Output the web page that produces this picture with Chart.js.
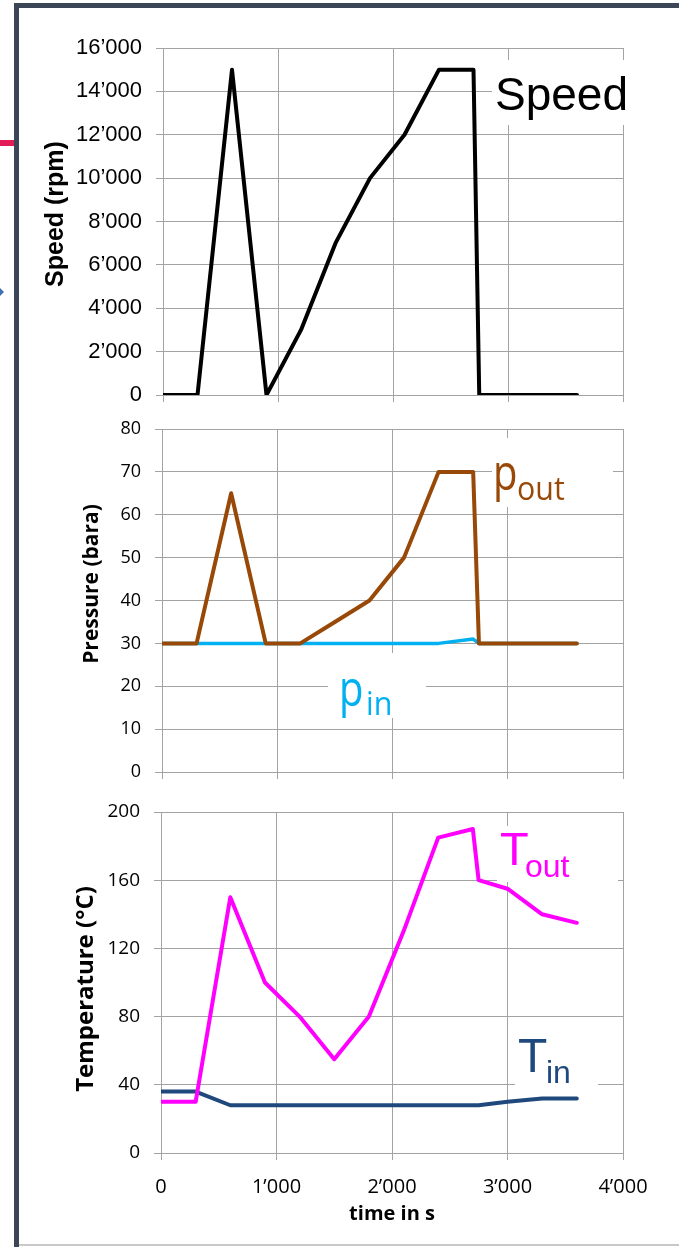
<!DOCTYPE html>
<html>
<head>
<meta charset="utf-8">
<script src="https://cdn.jsdelivr.net/npm/chart.js@4.4.1/dist/chart.umd.min.js"></script>
<style>
  body { margin: 0; background: #fff; width: 679px; height: 1247px; position: relative; overflow: hidden; }
  canvas { position: absolute; left: 0; }
  .bar { position: absolute; background: #3b4656; }
</style>
</head>
<body>
<div class="bar" style="left:14px;top:3px;width:5px;height:1244px"></div>
<div class="bar" style="left:14px;top:3px;width:665px;height:5px"></div>
<div style="position:absolute;left:19px;top:1244px;width:660px;height:2px;background:#c8c8c8"></div>
<div style="position:absolute;left:0;top:140px;width:14px;height:6px;background:#e31c58"></div>
<div style="position:absolute;left:0;top:288px;width:0;height:0;border-top:4px solid transparent;border-bottom:4px solid transparent;border-left:4px solid #3f6fb5"></div>

<canvas id="graficoSpeed" width="679" height="410" style="top:0px"></canvas>
<canvas id="graficoPressure" width="679" height="385" style="top:410px"></canvas>
<canvas id="graficoTemp" width="679" height="452" style="top:795px"></canvas>

<script>
// time in s
const speedTime = [0, 300, 600, 900, 1200, 1500, 1800, 2100, 2400, 2700, 2750, 3600];
const speedRpm = [0, 0, 15000, 0, 3000, 7000, 10000, 12000, 15000, 15000, 0, 0];

const pressTime = [0, 300, 600, 900, 1200, 1500, 1800, 2100, 2400, 2700, 2750, 3600];
const pOut = [30, 30, 65, 30, 30, 35, 40, 50, 70, 70, 30, 30];
const pIn = [30, 30, 30, 30, 30, 30, 30, 30, 30, 31, 30, 30];

const tempTime = [0, 300, 600, 900, 1200, 1500, 1800, 2100, 2400, 2700, 2750, 3000, 3300, 3600];
const tOut = [30, 30, 150, 100, 80, 55, 80, 130, 185, 190, 160, 155, 140, 135];
const tIn = [36, 36, 28, 28, 28, 28, 28, 28, 28, 28, 28, 30, 32, 32];

const timeTicks = [0, 1000, 2000, 3000, 4000];

const GRID = "#a3a3a3";
const SANS = "'Liberation Sans', Arial, sans-serif";
const OPEN = "'Open Sans', sans-serif";

// 16000 -> 16’000
function fmt(v) {
  return String(v).replace(/\B(?=(\d{3})+(?!\d))/g, "\u2019");
}

function pts(xs, ys) {
  return xs.map((x, i) => ({ x: x, y: ys[i] }));
}

function serie(xs, ys, color, width) {
  return {
    data: pts(xs, ys),
    borderColor: color,
    borderWidth: width,
    pointRadius: 0,
    borderJoinStyle: "round",
    borderCapStyle: "round",
    tension: 0,
  };
}

// text with optional horizontal squeeze
function txt(ctx, s, x, y, font, color, sx) {
  ctx.save();
  ctx.font = font;
  ctx.fillStyle = color;
  ctx.textBaseline = "alphabetic";
  ctx.textAlign = "left";
  ctx.translate(x, y);
  ctx.scale(sx || 1, 1);
  ctx.fillText(s, 0, 0);
  ctx.restore();
}

function textPlugin(top, boxes, titles) {
  return {
    id: "textos",
    beforeDatasetsDraw(chart) {
      const ctx = chart.ctx;
      boxes.forEach((b) => {
        ctx.fillStyle = "#fff";
        ctx.fillRect(b.box[0], b.box[1] - top, b.box[2], b.box[3]);
        b.parts.forEach((p) => txt(ctx, p[0], p[1], p[2] - top, p[3], b.color, p[4]));
      });
    },
    afterDraw(chart) {
      const ctx = chart.ctx;
      titles.forEach((t) => {
        ctx.save();
        ctx.font = t.font;
        ctx.fillStyle = "#000";
        ctx.textAlign = "center";
        ctx.textBaseline = "middle";
        ctx.translate(t.x, t.y - top);
        if (t.rot) ctx.rotate(-Math.PI / 2);
        ctx.fillText(t.text, 0, 0);
        ctx.restore();
      });
    },
  };
}

// chart area is placed by hand, so drop the label overflow padding
function semPadding(s) {
  s.paddingTop = 0;
  s.paddingBottom = 0;
  s.paddingLeft = 0;
  s.paddingRight = 0;
}

function painel(id, cfg) {
  return new Chart(document.getElementById(id).getContext("2d"), {
    type: "scatter",
    data: { datasets: cfg.datasets },
    options: {
      responsive: false,
      animation: false,
      showLine: true,
      layout: { padding: { top: cfg.padTop, left: 0, right: 679 - cfg.right, bottom: 0 } },
      plugins: { legend: { display: false }, tooltip: { enabled: false } },
      scales: {
        x: {
          type: "linear",
          min: 0,
          max: 4000,
          afterBuildTicks: (s) => { s.ticks = timeTicks.map((v) => ({ value: v })); },
          afterFit: (s) => { s.height = cfg.xHeight; semPadding(s); },
          grid: { color: GRID, tickLength: 7 },
          border: { color: GRID },
          ticks: {
            display: cfg.xLabels,
            callback: fmt,
            padding: 15,
            color: "#000",
            font: { family: OPEN, size: 20 },
          },
        },
        y: {
          min: 0,
          max: cfg.yMax,
          afterBuildTicks: (s) => { s.ticks = cfg.yTicks.map((v) => ({ value: v })); },
          afterFit: (s) => { s.width = cfg.left; semPadding(s); },
          grid: { color: GRID, tickLength: 7 },
          border: { color: GRID },
          ticks: {
            callback: fmt,
            padding: 14,
            color: "#000",
            font: cfg.yFont,
          },
        },
      },
    },
    plugins: [textPlugin(cfg.top, cfg.boxes, cfg.titles)],
  });
}

function range(max, step) {
  const r = [];
  for (let v = 0; v <= max; v += step) r.push(v);
  return r;
}

// Speed
painel("graficoSpeed", {
  top: 0, padTop: 48, xHeight: 15, left: 163, right: 623,
  yMax: 16000, yTicks: range(16000, 2000), xLabels: false,
  yFont: { family: SANS, size: 22 },
  datasets: [serie(speedTime, speedRpm, "#000000", 4)],
  boxes: [
    { box: [492, 60, 150, 65], color: "#000", parts: [["Speed", 495, 110, "46px " + SANS]] },
  ],
  titles: [{ text: "Speed (rpm)", x: 56, y: 214, rot: true, font: "bold 25px " + SANS }],
});

// Pressure
painel("graficoPressure", {
  top: 410, padTop: 19, xHeight: 23, left: 162, right: 623,
  yMax: 80, yTicks: range(80, 10), xLabels: false,
  yFont: { family: OPEN, size: 18 },
  datasets: [serie(pressTime, pOut, "#984807", 4), serie(pressTime, pIn, "#00b0f0", 3.5)],
  boxes: [
    { box: [492, 438, 121, 69], color: "#984807",
      parts: [["p", 493, 490, "50px " + OPEN, 0.8], ["out", 517, 500, "33px " + OPEN, 0.92]] },
    { box: [328, 653, 98, 65], color: "#00b0f0",
      parts: [["p", 339, 706, "50px " + OPEN, 0.8], ["in", 366, 715, "33px " + OPEN, 0.92]] },
  ],
  titles: [{ text: "Pressure (bara)", x: 92, y: 584, rot: true, font: "bold 21px " + OPEN }],
});

// Temperature
painel("graficoTemp", {
  top: 795, padTop: 17, xHeight: 94, left: 161, right: 623,
  yMax: 200, yTicks: range(200, 40), xLabels: true,
  yFont: { family: OPEN, size: 19 },
  datasets: [serie(tempTime, tOut, "#ff00ff", 4), serie(tempTime, tIn, "#1f497d", 4)],
  boxes: [
    { box: [497, 826, 121, 56], color: "#ff00ff",
      parts: [["T", 500, 865, "47px " + SANS], ["out", 525, 877, "32px " + SANS]] },
    { box: [515, 1033, 83, 54], color: "#1f497d",
      parts: [["T", 518, 1072, "48px " + SANS], ["in", 546, 1083, "32px " + SANS]] },
  ],
  titles: [
    { text: "Temperature (\u00b0C)", x: 86, y: 989, rot: true, font: "bold 24px " + OPEN },
    { text: "time in s", x: 392, y: 1214, rot: false, font: "bold 20px " + OPEN },
  ],
});
</script>
</body>
</html>
